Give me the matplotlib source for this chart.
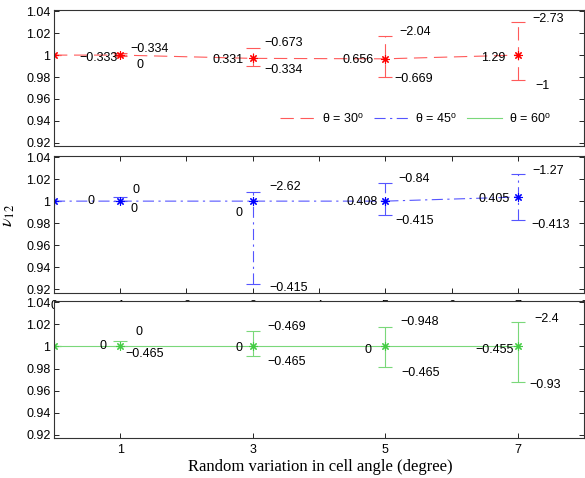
import matplotlib
matplotlib.use('Agg')
import matplotlib.pyplot as plt

plt.rcParams['font.family'] = ['Liberation Sans', 'DejaVu Sans']
plt.rcParams['mathtext.fontset'] = 'stix'

# x positions: random variation in cell angle (degree)
angles = [0, 1, 3, 5, 7]

# theta = 30 deg
nu30 = [1.0, 1.0, 0.997, 0.9966, 1.0]
lo30 = [1.0, 0.999, 0.9902, 0.9801, 0.9771]
hi30 = [1.0, 1.002, 1.0067, 1.0174, 1.0305]
txt30 = ['-0.333', '-0.334', '0', '0.331', '-0.673', '-0.334',
         '0.656', '-2.04', '-0.669', '1.29', '-2.73', '-1']

# theta = 45 deg
nu45 = [1.0, 1.0, 1.0, 1.0, 1.0037]
lo45 = [1.0, 1.0, 0.925, 0.9875, 0.9832]
hi45 = [1.0, 1.004, 1.0082, 1.0168, 1.0247]
txt45 = ['0', '0', '0', '0', '-2.62', '-0.415',
         '0.408', '-0.84', '-0.415', '0.405', '-1.27', '-0.413']

# theta = 60 deg
nu60 = [1.0, 1.0, 1.0, 1.0, 1.0]
lo60 = [1.0, 1.0, 0.991, 0.9814, 0.9678]
hi60 = [1.0, 1.0045, 1.0136, 1.018, 1.0226]
txt60 = ['0', '0', '-0.465', '0', '-0.469', '-0.465',
         '0', '-0.948', '-0.465', '-0.455', '-2.4', '-0.93']

labels = [r'θ = 30$^\mathregular{o}$', r'θ = 45$^\mathregular{o}$', r'θ = 60$^\mathregular{o}$']

# where the value labels sit (left edge, centre) in data units
pos30 = [(0.39, 0.997), (1.15, 1.0052), (1.25, 0.9908), (2.39, 0.9954), (3.17, 1.0107), (3.17, 0.9863),
         (4.36, 0.9954), (5.21, 1.0208), (5.14, 0.978), (6.45, 0.9975), (7.22, 1.0327), (7.27, 0.9716)]
pos45 = [(0.50, 1.0), (1.18, 1.0104), (1.15, 0.993), (2.74, 0.989), (3.25, 1.0128), (3.25, 0.9213),
         (4.41, 0.999), (5.20, 1.0205), (5.15, 0.9823), (6.40, 1.0022), (7.22, 1.0275), (7.20, 0.9787)]
pos60 = [(0.68, 1.0), (1.23, 1.0127), (1.07, 0.9931), (2.74, 0.9985), (3.22, 1.018), (3.22, 0.986),
         (4.68, 0.997), (5.23, 1.022), (5.24, 0.976), (6.36, 0.9964), (7.25, 1.0248), (7.17, 0.9654)]

fig = plt.figure(figsize=(5.85, 4.78), dpi=100)
ax1 = fig.add_axes([0.0923, 0.6946, 0.906, 0.2845])
ax2 = fig.add_axes([0.0923, 0.3877, 0.906, 0.2866])
ax3 = fig.add_axes([0.0923, 0.0837, 0.906, 0.2866])

series = [
    (ax1, nu30, lo30, hi30, txt30, pos30, '#ff5a5a', 'red', (0, (12, 6))),
    (ax2, nu45, lo45, hi45, txt45, pos45, '#5555ff', 'blue', (0, (10, 4, 2, 4))),
    (ax3, nu60, lo60, hi60, txt60, pos60, '#7ad87a', '#44cc44', '-'),
]

handles = []
for (ax, nu, lo, hi, txt, pos, col, mcol, ls), lab in zip(series, labels):
    line, = ax.plot(angles, nu, color=col, lw=0.8, linestyle=ls, label=lab)
    handles.append(line)
    err = [[n - l for n, l in zip(nu, lo)], [h - n for n, h in zip(nu, hi)]]
    eb = ax.errorbar(angles, nu, yerr=err, fmt='none', ecolor=col, elinewidth=0.8,
                     capsize=5, capthick=0.8)
    eb[2][0].set_linestyle(ls)
    ax.plot(angles, nu, linestyle='none', marker=(8, 2, 0), markersize=6,
            markeredgewidth=0.8, color=mcol)
    for t, (px, py) in zip(txt, pos):
        ax.text(px, py, t.replace('-', '\u2212'), fontsize=9, ha='left', va='center')

    ax.set_xlim(0, 8)
    ax.set_ylim(0.917, 1.0412)
    ax.set_yticks([0.92, 0.94, 0.96, 0.98, 1.0, 1.02, 1.04])
    ax.set_yticklabels(['0.92', '0.94', '0.96', '0.98', '1', '1.02', '1.04'])
    ax.tick_params(direction='in', length=3.5, width=0.6, labelsize=9, pad=2.5,
                   left=True, right=True)
    for sp in ax.spines.values():
        sp.set_linewidth(0.8)
        sp.set_color('#333333')

ax1.set_xticks([])
ax2.set_xticks(range(9))
ax2.tick_params(axis='x', top=True, bottom=True, pad=5)
ax3.set_xticks([1, 3, 5, 7])
ax3.tick_params(axis='x', pad=4)

ax1.legend(handles=handles, loc='center left', bbox_to_anchor=(0.405, 0.2), ncol=3,
           frameon=False, fontsize=9, handlelength=2.8, handletextpad=0.55,
           columnspacing=0.8)

fig.text(0.014, 1 - 215 / 478, r'$\bar{\nu}_{12}$', rotation=90, fontsize=13,
         ha='center', va='center')
fig.text(0.548, 1 - 467 / 478, 'Random variation in cell angle (degree)',
         family='Liberation Serif', fontsize=12, ha='center', va='center')

fig.savefig('out.png', dpi=100)
